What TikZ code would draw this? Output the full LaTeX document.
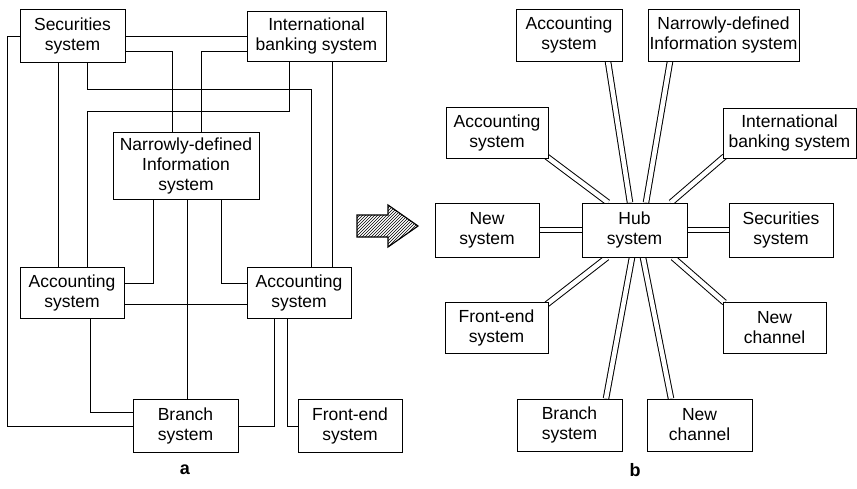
\documentclass[tikz,border=0pt]{standalone}
\usepackage{fontspec}
\setmainfont{Liberation Sans}
\usetikzlibrary{patterns}
\pgfdeclarelayer{background}
\pgfsetlayers{background,main}
\begin{document}
\begin{tikzpicture}[x=1pt,y=-1pt,
  box/.style={draw, line width=1pt, fill=white, align=center, inner sep=0pt,
    font=\fontsize{17.5}{20}\selectfont},
  sz/.style 2 args={minimum width=#1pt, minimum height=#2pt},
  wire/.style={line width=0.8pt},
  link/.style={line width=1pt, double=white, double distance=4.5pt},
  caption/.style={font=\fontsize{18}{18}\selectfont\bfseries}]
\useasboundingbox (0,0) rectangle (857,488);

% ---------------- (a) point-to-point links ----------------
\node[box, sz={105}{53}] (secA) at (72.5,35.5) {Securities\\system};
\node[box, sz={139}{50}] (intA) at (316.5,36) {International\\banking system};
\node[box, sz={146}{67}] (narA) at (186,165.5) {Narrowly-defined\\Information\\system};
\node[box, sz={104}{51}] (accA1) at (72,292.5) {Accounting\\system};
\node[box, sz={104}{51}] (accA2) at (299,292.5) {Accounting\\system};
\node[box, sz={105}{53}] (brA) at (185.5,425.5) {Branch\\system};
\node[box, sz={104}{53}] (feA) at (350,425.5) {Front-end\\system};

\draw[wire] (secA.west |- 0,36) -- (7,36) |- (brA.west |- 0,426);
\draw[wire] (secA.east |- 0,36) -- (intA.west |- 0,36);
\draw[wire] (secA.east |- 0,51) -| (172,0 |- narA.north);
\draw[wire] (intA.west |- 0,51) -| (201,0 |- narA.north);
\draw[wire] (58,0 |- secA.south) -- (58,0 |- accA1.north);
\draw[wire] (87,0 |- secA.south) -- (87,89) -| (311,0 |- accA2.north);
\draw[wire] (289,0 |- intA.south) -- (289,111) -| (87,0 |- accA1.north);
\draw[wire] (332,0 |- intA.south) -- (332,0 |- accA2.north);
\draw[wire] (153,0 |- narA.south) |- (accA1.east |- 0,283);
\draw[wire] (187,0 |- narA.south) -- (187,0 |- brA.north);
\draw[wire] (221,0 |- narA.south) |- (accA2.west |- 0,283);
\draw[wire] (accA1.east |- 0,304) -- (accA2.west |- 0,304);
\draw[wire] (90,0 |- accA1.south) |- (brA.west |- 0,412);
\draw[wire] (274,0 |- accA2.south) |- (brA.east |- 0,426);
\draw[wire] (287,0 |- accA2.south) |- (feA.west |- 0,426);

\node[caption] (capA) at (185,470) {a};

% ---------------- hatched transition arrow ----------------
\draw[line width=1.2pt, pattern=north east lines]
  (357,215) -- (388,215) -- (388,205) -- (418,226) -- (388,247) -- (388,237) -- (357,237) -- cycle;

% ---------------- (b) hub-and-spoke ----------------
\node[box, sz={105}{54}] (hub) at (634.5,230) {Hub\\system};
\node[box, sz={106}{52}] (accB1) at (569,35) {Accounting\\system};
\node[box, sz={151}{52}] (narB) at (723.5,35) {Narrowly-defined\\Information system};
\node[box, sz={102}{51}] (accB2) at (497,132.5) {Accounting\\system};
\node[box, sz={133}{50}] (intB) at (789.5,133) {International\\banking system};
\node[box, sz={104}{54}] (newB) at (487,230) {New\\system};
\node[box, sz={104}{54}] (secB) at (781,230) {Securities\\system};
\node[box, sz={103}{51}] (feB) at (496.5,327.5) {Front-end\\system};
\node[box, sz={103}{51}] (ncB1) at (774.5,327.5) {New\\channel};
\node[box, sz={105}{52}] (brB) at (569.5,425) {Branch\\system};
\node[box, sz={105}{52}] (ncB2) at (699.5,425) {New\\channel};

% double-line spokes, kept underneath the boxes
\begin{pgfonlayer}{background}
\draw[link] (608,0 |- accB1.south) -- (630,0 |- hub.north);
\draw[link] (670,0 |- narB.south) -- (646,0 |- hub.north);
\draw[link] ([xshift=-2pt,yshift=2pt]accB2.south east) -- (608,0 |- hub.north);
\draw[link] ([xshift=2pt,yshift=2pt]intB.south west) -- (671,0 |- hub.north);
\draw[link] (newB.east) -- (hub.west);
\draw[link] (hub.east) -- (secB.west);
\draw[link] (607,0 |- hub.south) -- ([xshift=-2pt,yshift=-3pt]feB.north east);
\draw[link] (632,0 |- hub.south) -- (606,0 |- brB.north);
\draw[link] (643,0 |- hub.south) -- (671,0 |- ncB2.north);
\draw[link] (673,0 |- hub.south) -- ([xshift=2pt,yshift=-1pt]ncB1.north west);
\end{pgfonlayer}

\node[caption] (capB) at (635,470) {b};
\end{tikzpicture}
\end{document}
